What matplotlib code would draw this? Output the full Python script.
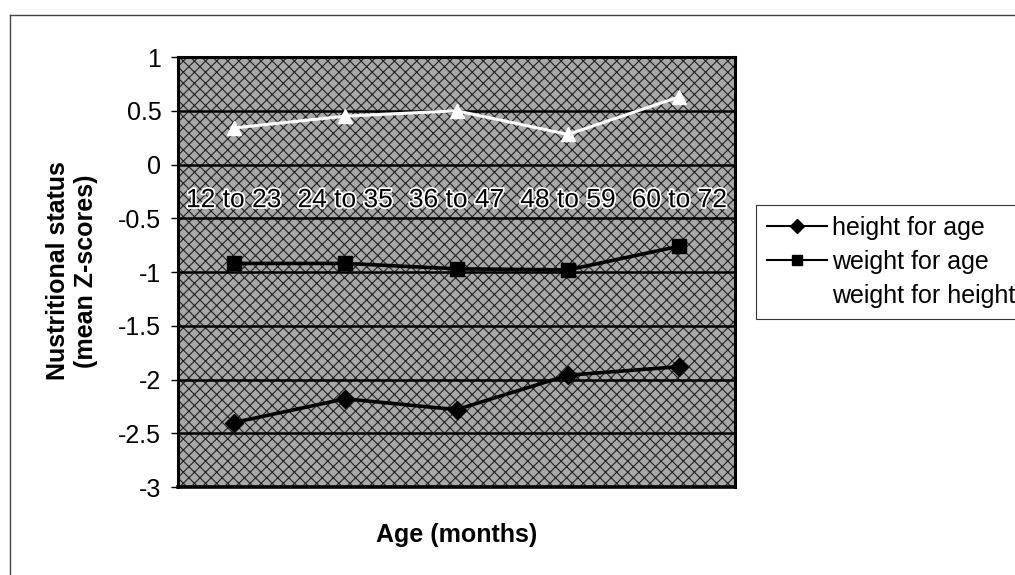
import matplotlib.pyplot as plt
import matplotlib.patheffects as pe
from matplotlib.patches import Rectangle
from matplotlib.lines import Line2D

plt.rcParams['font.family'] = ['Liberation Sans', 'DejaVu Sans']
plt.rcParams['hatch.color'] = '#222222'
plt.rcParams['hatch.linewidth'] = 0.8

# data
age_groups = ["12 to 23", "24 to 35", "36 to 47", "48 to 59", "60 to 72"]
height_for_age = [-2.40, -2.18, -2.28, -1.96, -1.88]
weight_for_age = [-0.92, -0.92, -0.97, -0.98, -0.76]
weight_for_height = [0.34, 0.45, 0.50, 0.28, 0.63]
yticks = [1, 0.5, 0, -0.5, -1, -1.5, -2, -2.5, -3]

fig = plt.figure(figsize=(10.15, 5.75), dpi=100)
ax = fig.add_axes([0.1754, 0.1530, 0.5488, 0.7478])

# speckled grey plot area
ax.add_patch(Rectangle((0, 0), 1, 1, transform=ax.transAxes, facecolor='#a8a8a8',
                       hatch='xxx', edgecolor='#222222', linewidth=0, zorder=0))

x = list(range(len(age_groups)))
for v in yticks:
    ax.axhline(v, color='black', lw=1.8, zorder=1)

l1, = ax.plot(x, height_for_age, color='black', lw=2.6, marker='D', ms=9, zorder=3,
              label='height for age')
l2, = ax.plot(x, weight_for_age, color='black', lw=2.6, marker='s', ms=10, zorder=3,
              label='weight for age')
l3, = ax.plot(x, weight_for_height, color='white', lw=2.2, marker='^', ms=10, zorder=3,
              label='weight for height')

ax.set_xlim(-0.5, len(age_groups) - 0.5)
ax.set_ylim(-3, 1)
ax.set_yticks(yticks)
ax.set_yticklabels([f"{v:g}" for v in yticks], fontsize=18)
ax.tick_params(axis='y', length=5, width=1, pad=7)

# category labels sit on the zero line
for s in ['top', 'right', 'left']:
    ax.spines[s].set_linewidth(2.2)
ax.spines['bottom'].set_position(('data', 0))
ax.spines['bottom'].set_visible(False)
ax.set_xticks(x)
ax.set_xticklabels(age_groups, fontsize=19)
ax.tick_params(axis='x', length=0, pad=17)
for t in ax.get_xticklabels():
    t.set_path_effects([pe.withStroke(linewidth=2.5, foreground='white')])
ax.add_line(Line2D([0, 1], [0, 0], transform=ax.transAxes, color='black', lw=2.6,
                   clip_on=False, zorder=4))

fig.text(0.071, 0.529, "Nustritional status\n(mean Z-scores)", fontsize=18,
         fontweight='bold', rotation=90, ha='center', va='center',
         multialignment='center', linespacing=1.2)
fig.text(0.450, 0.0696, "Age (months)", fontsize=18, fontweight='bold', ha='center',
         va='center')

leg = fig.legend(handles=[l1, l2, l3], loc='upper left',
                 bbox_to_anchor=(0.7448, 0.6435), fontsize=18, frameon=True,
                 fancybox=False, edgecolor='black', handlelength=2.4,
                 handletextpad=0.2, borderpad=0.45, labelspacing=0.4,
                 borderaxespad=0)
leg.get_frame().set_linewidth(0.8)
for h in leg.legend_handles:
    h.set_markersize(7)
    h.set_linewidth(1.5)

# outer chart border
fig.add_artist(Line2D([0.0099, 0.0099], [0, 0.974], transform=fig.transFigure,
                      color='#444444', lw=1))
fig.add_artist(Line2D([0.0099, 1], [0.974, 0.974], transform=fig.transFigure,
                      color='#444444', lw=1))

fig.savefig("out.png", dpi=100)
